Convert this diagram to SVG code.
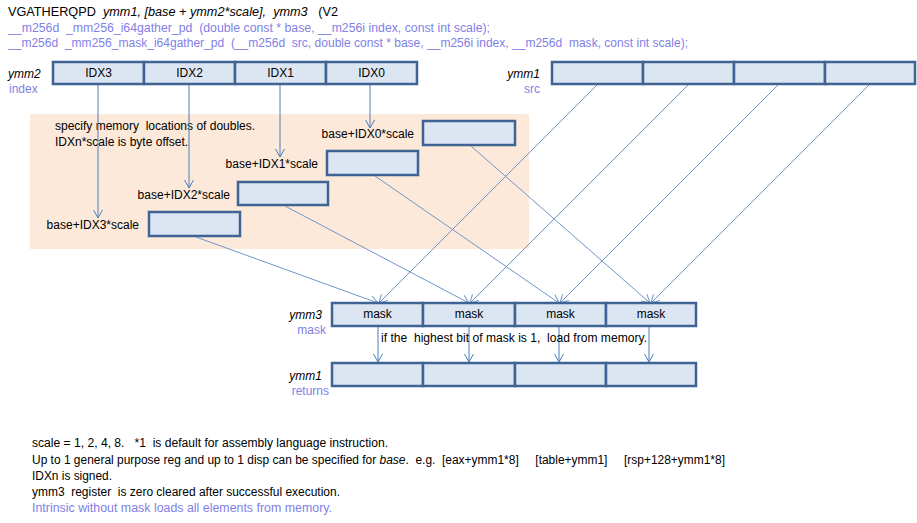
<svg xmlns="http://www.w3.org/2000/svg" width="917" height="523" viewBox="0 0 917 523">
<defs>
<marker id="arr" markerUnits="userSpaceOnUse" markerWidth="12" markerHeight="12" refX="0" refY="0" orient="auto" overflow="visible">
<path d="M-8,-4.5 L0,0 L-8,4.5" fill="none" stroke="#4a7ebb" stroke-width="1"/>
</marker>
<marker id="arr2" markerUnits="userSpaceOnUse" markerWidth="12" markerHeight="12" refX="0" refY="0" orient="auto" overflow="visible">
<path d="M-8,-4.5 L0,0 L-8,4.5" fill="none" stroke="#6f95c8" stroke-width="1"/>
</marker>
</defs>
<style>
text{font-family:"Liberation Sans",Arial,sans-serif;font-size:12px;fill:#000;white-space:pre}
.c{text-anchor:middle}
.r{text-anchor:end}
.i{font-style:italic}
.b{fill:#7f7fe6}
.reg{fill:#dce6f2;stroke:#3e6394;stroke-width:2.5}
.v{stroke:#4a7ebb;stroke-width:1;fill:none}
.d{stroke:#6f95c8;stroke-width:1;fill:none}
</style>
<rect width="917" height="523" fill="#fff"/>

<g id="header">
<text x="8" y="16" textLength="330" lengthAdjust="spacingAndGlyphs" xml:space="preserve">VGATHERQPD  <tspan class="i">ymm1, [base + ymm2*scale],  ymm3</tspan>   (V2</text>
<text class="b" x="8" y="32" textLength="482" lengthAdjust="spacingAndGlyphs" xml:space="preserve">__m256d  _mm256_i64gather_pd  (double const * base, __m256i index, const int scale);</text>
<text class="b" x="8" y="47" textLength="680" lengthAdjust="spacingAndGlyphs" xml:space="preserve">__m256d  _mm256_mask_i64gather_pd  (__m256d  src, double const * base, __m256i index, __m256d  mask, const int scale);</text>
</g>

<rect id="memory-area" x="30" y="114" width="499" height="135" fill="#fde9d9"/>

<g id="ymm2">
<rect class="reg" x="53" y="62" width="91" height="22"/>
<rect class="reg" x="144" y="62" width="91" height="22"/>
<rect class="reg" x="235" y="62" width="91" height="22"/>
<rect class="reg" x="326" y="62" width="91" height="22"/>
<text class="c" x="98.5" y="77">IDX3</text>
<text class="c" x="189.5" y="77">IDX2</text>
<text class="c" x="280.5" y="77">IDX1</text>
<text class="c" x="371.5" y="77">IDX0</text>
<text class="i" x="8" y="78">ymm2</text>
<text class="b" x="9" y="93">index</text>
</g>

<g id="ymm1-src">
<rect class="reg" x="552" y="62" width="91" height="22"/>
<rect class="reg" x="643" y="62" width="91" height="22"/>
<rect class="reg" x="734" y="62" width="91" height="22"/>
<rect class="reg" x="825" y="62" width="90" height="22"/>
<text class="i r" x="540" y="78">ymm1</text>
<text class="b r" x="540" y="93">src</text>
</g>

<g id="note-memory">
<text x="55" y="130" xml:space="preserve">specify memory  locations of doubles.</text>
<text x="55" y="146">IDXn*scale is byte offset.</text>
</g>

<g id="mem0">
<rect class="reg" x="423" y="121" width="92" height="24"/>
<text class="r" x="414" y="138">base+IDX0*scale</text>
</g>
<g id="mem1">
<rect class="reg" x="327" y="151" width="91" height="24"/>
<text class="r" x="318" y="168">base+IDX1*scale</text>
</g>
<g id="mem2">
<rect class="reg" x="238" y="182" width="90" height="23"/>
<text class="r" x="230" y="199">base+IDX2*scale</text>
</g>
<g id="mem3">
<rect class="reg" x="149" y="212" width="91" height="24"/>
<text class="r" x="139" y="229">base+IDX3*scale</text>
</g>

<g id="connectors">
<line class="v" x1="98" y1="85" x2="98" y2="218" marker-end="url(#arr)"/>
<line class="v" x1="189" y1="85" x2="189" y2="188" marker-end="url(#arr)"/>
<line class="v" x1="280" y1="85" x2="280" y2="157" marker-end="url(#arr)"/>
<line class="v" x1="370" y1="85" x2="370" y2="128" marker-end="url(#arr)"/>

<line class="d" x1="196" y1="237" x2="378" y2="303" marker-end="url(#arr2)"/>
<line class="d" x1="285" y1="206" x2="469" y2="303" marker-end="url(#arr2)"/>
<line class="d" x1="375" y1="176" x2="559" y2="303" marker-end="url(#arr2)"/>
<line class="d" x1="471" y1="146" x2="650" y2="303" marker-end="url(#arr2)"/>

<line class="d" x1="597" y1="85" x2="379" y2="303" marker-end="url(#arr2)"/>
<line class="d" x1="688" y1="85" x2="470" y2="303" marker-end="url(#arr2)"/>
<line class="d" x1="778" y1="85" x2="560" y2="303" marker-end="url(#arr2)"/>
<line class="d" x1="869" y1="85" x2="651" y2="303" marker-end="url(#arr2)"/>

<line class="v" x1="378" y1="327" x2="378" y2="362" marker-end="url(#arr)"/>
<line class="v" x1="469" y1="327" x2="469" y2="362" marker-end="url(#arr)"/>
<line class="v" x1="559" y1="327" x2="559" y2="362" marker-end="url(#arr)"/>
<line class="v" x1="649" y1="327" x2="649" y2="362" marker-end="url(#arr)"/>
</g>

<g id="ymm3">
<rect class="reg" x="332" y="303" width="91" height="23"/>
<rect class="reg" x="423" y="303" width="92" height="23"/>
<rect class="reg" x="515" y="303" width="91" height="23"/>
<rect class="reg" x="606" y="303" width="90" height="23"/>
<text class="c" x="377.5" y="318">mask</text>
<text class="c" x="469" y="318">mask</text>
<text class="c" x="560.5" y="318">mask</text>
<text class="c" x="651" y="318">mask</text>
<text class="i r" x="322" y="319">ymm3</text>
<text class="b r" x="326" y="334">mask</text>
</g>

<g id="note-mask">
<text x="381" y="342" textLength="266" lengthAdjust="spacingAndGlyphs" xml:space="preserve">if the  highest bit of mask is 1,  load from memory.</text>
</g>

<g id="ymm1-returns">
<rect class="reg" x="332" y="363" width="91" height="23"/>
<rect class="reg" x="423" y="363" width="92" height="23"/>
<rect class="reg" x="515" y="363" width="91" height="23"/>
<rect class="reg" x="606" y="363" width="90" height="23"/>
<text class="i r" x="322" y="380">ymm1</text>
<text class="b r" x="329" y="395">returns</text>
</g>

<g id="footer">
<text x="32" y="447" textLength="356" lengthAdjust="spacingAndGlyphs" xml:space="preserve">scale = 1, 2, 4, 8.   *1  is default for assembly language instruction.</text>
<text x="32" y="464" textLength="693" lengthAdjust="spacingAndGlyphs" xml:space="preserve">Up to 1 general purpose reg and up to 1 disp can be specified for <tspan class="i">base</tspan>.  e.g.  [eax+ymm1*8]     [table+ymm1]     [rsp+128+ymm1*8]</text>
<text x="32" y="480" textLength="80" lengthAdjust="spacingAndGlyphs">IDXn is signed.</text>
<text x="32" y="496" textLength="308" lengthAdjust="spacingAndGlyphs" xml:space="preserve">ymm3  register  is zero cleared after successful execution.</text>
<text class="b" x="32" y="512" textLength="300" lengthAdjust="spacingAndGlyphs">Intrinsic without mask loads all elements from memory.</text>
</g>
</svg>
